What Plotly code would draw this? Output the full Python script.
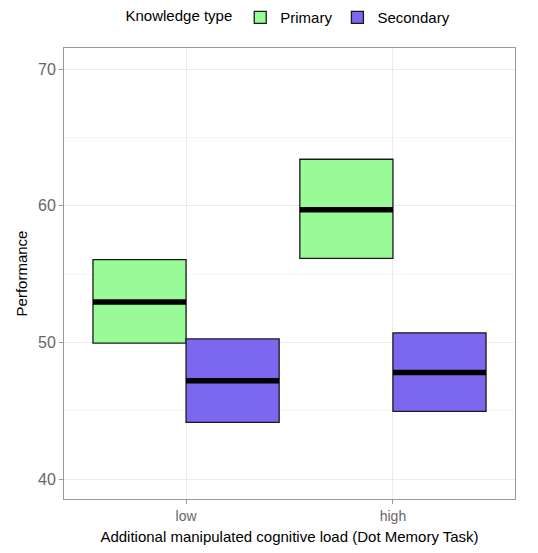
import plotly.graph_objects as go

# Data
load_levels = ["low", "high"]
knowledge_types = ["Primary", "Secondary"]
primary_mean = [52.95, 59.7]
primary_lower = [49.95, 56.15]
primary_upper = [56.05, 63.4]
secondary_mean = [47.2, 47.8]
secondary_lower = [44.15, 44.95]
secondary_upper = [50.25, 50.7]

colors = {"Primary": "#98FB98", "Secondary": "#7B68EE"}
series = {
    "Primary": (primary_mean, primary_lower, primary_upper),
    "Secondary": (secondary_mean, secondary_lower, secondary_upper),
}

xpos = [1, 2]
dodge = 0.9
n = len(knowledge_types)
w = dodge / n

fig = go.Figure()
for i, kt in enumerate(knowledge_types):
    mean, lo, hi = series[kt]
    off = -dodge / 2 + w * i + w / 2
    xs = [p + off for p in xpos]
    fig.add_trace(go.Bar(
        x=xs, y=[h - l for h, l in zip(hi, lo)], base=lo, width=w,
        marker=dict(color=colors[kt], line=dict(color="#1a1a1a", width=1.3)),
        name=kt, showlegend=True,
    ))
for i, kt in enumerate(knowledge_types):
    mean, lo, hi = series[kt]
    off = -dodge / 2 + w * i + w / 2
    lx, ly = [], []
    for p, m in zip(xpos, mean):
        lx += [p + off - w / 2, p + off + w / 2, None]
        ly += [m, m, None]
    fig.add_trace(go.Scatter(x=lx, y=ly, mode="lines",
                             line=dict(color="black", width=5.5),
                             showlegend=False, hoverinfo="skip"))

fig.update_layout(
    width=522, height=537,
    margin=dict(l=56, r=15, t=40, b=46, autoexpand=False),
    plot_bgcolor="white", paper_bgcolor="white",
    barmode="overlay",
    font=dict(family="Liberation Sans, Arial, sans-serif", size=14, color="black"),
    legend=dict(orientation="h", x=0.5, xanchor="center",
                yref="container", y=0.982, yanchor="middle",
                title=dict(text="Knowledge type", side="left", font=dict(size=15)),
                font=dict(size=15), itemwidth=30, traceorder="normal",
                tracegroupgap=0),
    showlegend=True,
)
fig.update_xaxes(
    range=[0.41, 2.59], tickvals=xpos, ticktext=load_levels,
    showgrid=True, gridcolor="#EBEBEB", gridwidth=1,
    ticks="outside", ticklen=4, tickcolor="#999999",
    tickfont=dict(size=14, color="#666666"),
    showline=True, linecolor="#999999", linewidth=1, mirror=True,
    zeroline=False,
    title=dict(text="Additional manipulated cognitive load (Dot Memory Task)",
               font=dict(size=15, color="black"), standoff=8),
)
fig.update_yaxes(
    range=[38.54, 71.54], tickvals=[40, 50, 60, 70],
    showgrid=True, gridcolor="#EBEBEB", gridwidth=1,
    minor=dict(tickvals=[45, 55, 65], showgrid=True, gridcolor="#F5F5F5", ticklen=0),
    ticks="outside", ticklen=4, tickcolor="#999999",
    tickfont=dict(size=16, color="#666666"),
    showline=True, linecolor="#999999", linewidth=1, mirror=True,
    zeroline=False,
    title=dict(text="Performance", font=dict(size=15, color="black"), standoff=6),
)

fig.write_html("out.html")
